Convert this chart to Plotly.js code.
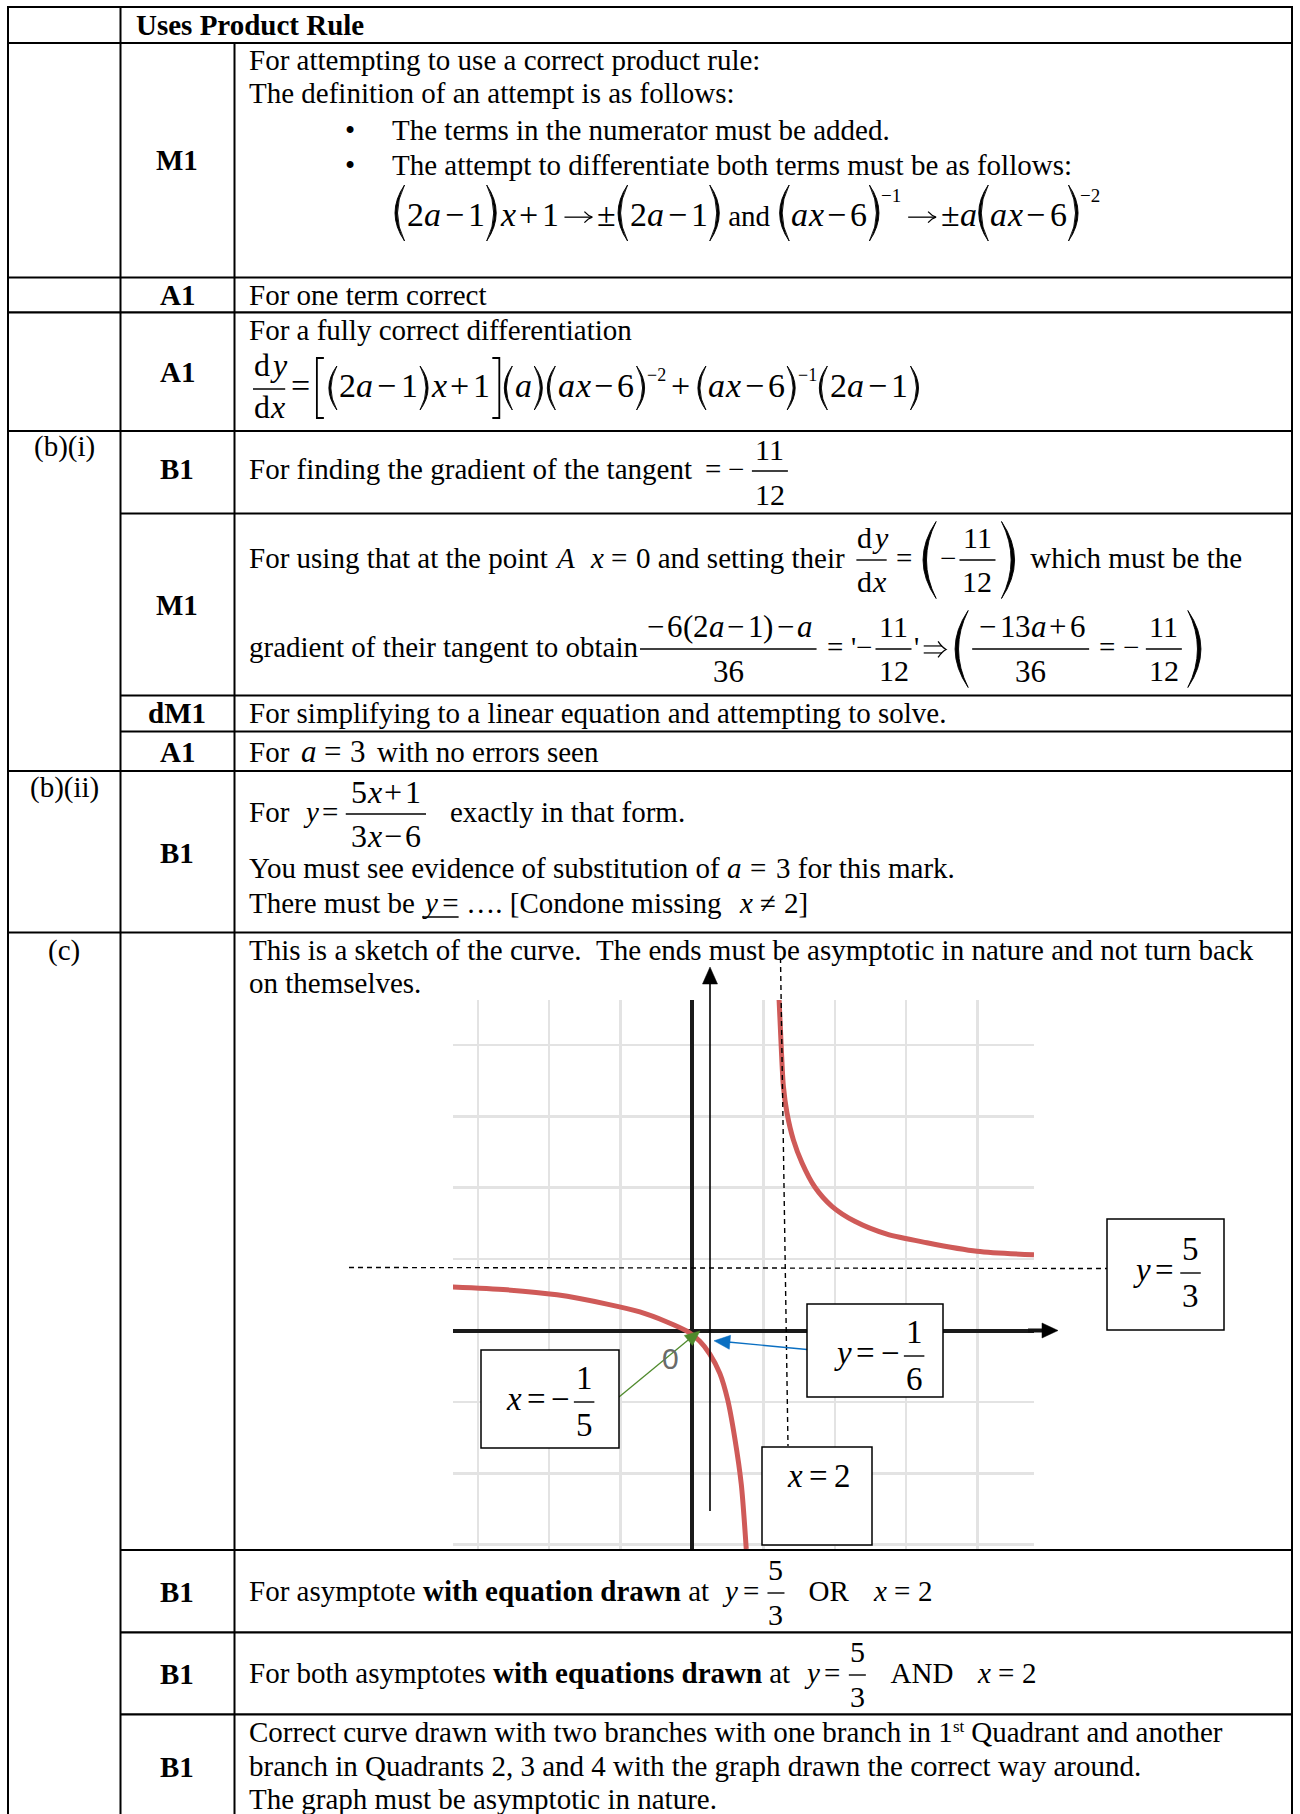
<!DOCTYPE html>
<html><head><meta charset="utf-8">
<script src="https://cdn.plot.ly/plotly-3.0.1.min.js"></script>
<style>html,body{margin:0;padding:0;background:#fff}</style>
</head><body>
<div id="chart" style="width:1300px;height:1814px"></div>
<script>
// ---------- data (grid units of the drawn grid) ----------
const upperX = [1.22, 1.25, 1.28, 1.33, 1.42, 1.54, 1.72, 1.96, 2.28, 2.73, 3.29, 3.99, 4.79];
const upperY = [4.63, 3.97, 3.42, 3.05, 2.67, 2.35, 2.01, 1.74, 1.53, 1.35, 1.23, 1.11, 1.06];
const lowerX = [-3.35, -2.59, -1.89, -1.19, -0.73, -0.35, -0.07, 0.11, 0.25, 0.39, 0.50, 0.60, 0.69, 0.76];
const lowerY = [0.61, 0.57, 0.50, 0.37, 0.26, 0.12, -0.01, -0.15, -0.33, -0.60, -0.97, -1.51, -2.15, -3.06];
const markLabels = ['M1', 'A1', 'A1', 'B1', 'M1', 'dM1', 'A1', 'B1', 'B1', 'B1', 'B1'];
const partLabels = ['(b)(i)', '(b)(ii)', '(c)'];

// ---------- layout helpers (page pixel coordinates) ----------
const F = 'Liberation Serif';
const TS = 29;
const A = [], S = [];
const cx = document.createElement('canvas').getContext('2d');
function fnt(s, st) { return (st.indexOf('i') >= 0 ? 'italic ' : '') + (st.indexOf('b') >= 0 ? 'bold ' : '') + s + 'px "' + F + '"'; }
function mw(t, s, st) { cx.font = fnt(s, st || ''); return cx.measureText(t.replace(/ /g, '\u00a0')).width; }
function put(x, base, t, s, st, o) {
  o = o || {}; st = st || '';
  let h = t.replace(/ /g, '\u00a0');
  if (st.indexOf('i') >= 0) h = '<i>' + h + '</i>';
  if (st.indexOf('b') >= 0) h = '<b>' + h + '</b>';
  A.push({xref: 'x', yref: 'y', x: x, y: base - 0.3375 * s, text: h, showarrow: false,
    xanchor: o.anchor || 'left', yanchor: 'middle', borderpad: 0, borderwidth: 0,
    font: {family: o.fam || F, size: s, color: o.color || '#000'}});
}
function ln(x0, y0, x1, y1, w, extra) {
  const l = {color: '#000', width: w};
  if (extra && extra.dash) l.dash = extra.dash;
  if (extra && extra.color) l.color = extra.color;
  return {type: 'line', xref: 'x', yref: 'y', x0: x0, y0: y0, x1: x1, y1: y1, layer: 'above', line: l};
}
function pth(p, w) { return {type: 'path', xref: 'x', yref: 'y', path: p, line: {color: '#000', width: w}, layer: 'above'}; }
function T(t, st, s, dy) { return {k: 't', t: t, st: st || '', s: s || 0, dy: dy || 0}; }
function SUP(t, s, rise) { return T(t, '', s, -rise); }
function SP(n) { return {k: 'sp', n: n}; }
function FR(num, den, o) { return {k: 'f', num: num, den: den, o: o || {}}; }
function P(c, h, o) { return {k: 'p', c: c, h: h, o: o || {}}; }
function U(items) { return {k: 'u', items: items}; }
function AR(w, dbl, s) { return {k: 'ar', w: w, dbl: !!dbl, s: s}; }
const ITAL = 'axyA';
function M(str, sz, rs, bs) {
  rs = (rs == null ? 5 : rs); bs = (bs == null ? 3 : bs);
  const out = [];
  for (const ch of str) {
    if (ITAL.indexOf(ch) >= 0) out.push(T(ch, 'i', sz));
    else if ('−+'.indexOf(ch) >= 0) out.push(SP(bs), T(ch, '', sz), SP(bs));
    else if (ch === '→') out.push(SP(rs), AR(0.88 * (sz || TS), false, sz), SP(rs));
    else if (ch === '⇒') out.push(SP(Math.max(1, rs - 3)), AR(0.84 * (sz || TS), true, sz), SP(Math.max(1, rs - 3)));
    else if ('=≠'.indexOf(ch) >= 0) out.push(SP(rs), T(ch, '', sz), SP(rs));
    else out.push(T(ch, '', sz));
  }
  return out;
}
function parenShape(c, x, yc, w, h) {
  const top = yc - h / 2, bot = yc + h / 2, t = Math.max(2, 0.045 * h);
  let p;
  if (c === '(' || c === ')') {
    let xe, x1, x2;
    if (c === '(') { xe = x + w; x1 = 2 * x - xe; x2 = 2 * (x + t) - xe; }
    else { xe = x; x1 = 2 * (x + w) - xe; x2 = 2 * (x + w - t) - xe; }
    p = 'M' + xe + ',' + top + ' Q' + x1 + ',' + yc + ' ' + xe + ',' + bot + ' Q' + x2 + ',' + yc + ' ' + xe + ',' + top + ' Z';
    return {type: 'path', xref: 'x', yref: 'y', path: p, fillcolor: '#000', line: {color: '#000', width: 0.9}, layer: 'above'};
  }
  if (c === '[') p = 'M' + (x + w) + ',' + top + ' L' + x + ',' + top + ' L' + x + ',' + bot + ' L' + (x + w) + ',' + bot;
  else p = 'M' + x + ',' + top + ' L' + (x + w) + ',' + top + ' L' + (x + w) + ',' + bot + ' L' + x + ',' + bot;
  return pth(p, 1.8);
}
function run(x, base, items, s, draw) {
  s = s || TS;
  if (draw === undefined) draw = true;
  if (!Array.isArray(items)) items = [items];
  for (const it of items) {
    if (typeof it === 'string') { const w = mw(it, s, ''); if (draw) put(x, base, it, s, ''); x += w; continue; }
    if (it.k === 't') { const sz = it.s || s; const w = mw(it.t, sz, it.st); if (draw) put(x, base + it.dy, it.t, sz, it.st); x += w; }
    else if (it.k === 'sp') x += it.n;
    else if (it.k === 'ar') {
      const sz = it.s || s, yc = base - 0.26 * sz, x1 = x + 1, x2 = x + it.w - 1;
      if (draw) {
        if (!it.dbl) {
          S.push(ln(x1, yc, x2 - 1, yc, 1.3));
          S.push(pth('M' + (x2 - 8) + ',' + (yc - 5.5) + ' Q' + (x2 - 4) + ',' + (yc - 1) + ' ' + x2 + ',' + yc + ' Q' + (x2 - 4) + ',' + (yc + 1) + ' ' + (x2 - 8) + ',' + (yc + 5.5), 1.3));
        } else {
          S.push(ln(x1, yc - 3.5, x2 - 4, yc - 3.5, 1.2));
          S.push(ln(x1, yc + 3.5, x2 - 4, yc + 3.5, 1.2));
          S.push(pth('M' + (x2 - 8) + ',' + (yc - 8) + ' Q' + (x2 - 4) + ',' + (yc - 2) + ' ' + x2 + ',' + yc + ' Q' + (x2 - 4) + ',' + (yc + 2) + ' ' + (x2 - 8) + ',' + (yc + 8), 1.3));
        }
      }
      x += it.w;
    }
    else if (it.k === 'f') {
      const o = it.o, sz = o.s || s, pad = (o.pad == null ? 2 : o.pad);
      const wn = run(0, 0, it.num, sz, false), wd = run(0, 0, it.den, sz, false);
      const W = Math.max(wn, wd) + 2 * pad;
      const bar = base - (o.ax == null ? 8 : o.ax);
      if (draw) {
        run(x + (W - wn) / 2, bar - (o.gn == null ? 12 : o.gn), it.num, sz, true);
        run(x + (W - wd) / 2, bar + (o.gd == null ? 32 : o.gd), it.den, sz, true);
        S.push(ln(x, bar, x + W, bar, o.lw || 1.4));
      }
      x += W + 2;
    }
    else if (it.k === 'p') {
      const o = it.o, isB = (it.c === '[' || it.c === ']');
      const w = o.w || (isB ? 7 : Math.max(8, 0.17 * it.h));
      const sb = (o.sb == null ? 2 : o.sb);
      const yc = base - (o.c == null ? 8 : o.c);
      if (draw) S.push(parenShape(it.c, x + sb, yc, w, it.h));
      x += w + 2 * sb;
    }
    else if (it.k === 'u') { const x0 = x; x = run(x, base, it.items, s, draw); if (draw) S.push(ln(x0, base + 4, x, base + 4, 1.4)); }
  }
  return x;
}

// ---------- table grid ----------
const L = 8, C1 = 120.5, C2 = 234.5, R = 1292;
[[7, L], [43, L], [277.5, L], [312.3, L], [431, L], [513.5, C1], [695.5, C1], [731.5, C1], [771, L], [932.5, L],
 [1550, C1], [1632.3, C1], [1714.3, C1]].forEach(function (r) { S.push(ln(r[1], r[0], R, r[0], 2.2)); });
S.push(ln(L, 6, L, 1814, 2));
S.push(ln(C1, 6, C1, 1814, 2));
S.push(ln(C2, 43, C2, 1814, 2));
S.push(ln(R, 6, R, 1814, 2));

// ---------- labels ----------
const markBase = [170, 305, 382, 479, 615, 723, 762, 863, 1602, 1684, 1777];
markLabels.forEach(function (t, i) { put(177, markBase[i], t, TS, 'b', {anchor: 'center'}); });
const partBase = [456, 797, 960];
partLabels.forEach(function (t, i) { put(64, partBase[i], t, TS, '', {anchor: 'center'}); });

// ---------- text rows ----------
const X0 = 249;
put(136, 35, 'Uses Product Rule', TS, 'b');
run(X0, 70, 'For attempting to use a correct product rule:');
run(X0, 103, 'The definition of an attempt is as follows:');
put(350, 140, '•', TS, '', {anchor: 'center'});
run(392, 140, 'The terms in the numerator must be added.');
put(350, 175, '•', TS, '', {anchor: 'center'});
run(392, 175, 'The attempt to differentiate both terms must be as follows:');
(function () {
  const s = 34, p = function (c) { return P(c, 56, {c: 13}); };
  run(393, 226, [].concat(p('('), M('2a−1', s, 4, 4), p(')'), SP(2), M('x+1→±', s, 4, 4), p('('), M('2a−1', s, 4, 4), p(')'),
    T(' and ', '', TS), p('('), M('ax−6', s, 4, 4), p(')'), SUP('−1', 19, 24), SP(2), M('→±a', s, 4, 4), p('('), M('ax−6', s, 4, 4), p(')'), SUP('−2', 19, 24)), s);
})();
run(X0, 305, 'For one term correct');
run(X0, 340, 'For a fully correct differentiation');
(function () {
  const s = 34, p = function (c) { return P(c, 44, {c: 9, sb: 2.5}); }, b = function (c) { return P(c, 60, {c: 9, sb: 2.5}); };
  run(253, 397, [].concat(FR([T('d'), T('y', 'i')], [T('d'), T('x', 'i')], {s: 32, pad: 1, gn: 13, gd: 29, ax: 8}), M('=', s, 4), b('['), p('('), M('2a−1', s, 5, 4), p(')'),
    M('x+1', s, 5, 4), b(']'), p('('), T('a', 'i'), p(')'), p('('), M('ax−6', s, 5, 4), p(')'), SUP('−2', 18, 16), M('+', s, 5, 5),
    p('('), M('ax−6', s, 5, 4), p(')'), SUP('−1', 18, 16), p('('), M('2a−1', s, 5, 4), p(')')), s);
})();
// (b)(i)
run(X0, 479, [].concat('For finding the gradient of the tangent ', M('=', TS, 6), T('−'), SP(8), FR(['11'], ['12'], {s: 30, gn: 11, gd: 34, pad: 3})));
(function () {
  const fo = {s: 30, gn: 12, gd: 32, pad: 1};
  const fo3 = {s: 30, gn: 12, gd: 32, pad: 3};
  const fb = {s: 31, gn: 12, gd: 33, pad: 4};
  const pb = function (c) { return P(c, 77, {c: 8, sb: 4}); };
  const dydx = FR([T('d'), T('y', 'i')], [T('d'), T('x', 'i')], fo);
  run(X0, 568, [].concat('For using that at the point ', T('A', 'i'), '  ', SP(3), T('x', 'i'), M('=', TS, 8), '0 and setting their ', SP(5), dydx, M('=', TS, 7),
    pb('('), T('−'), SP(3), FR(['11'], ['12'], fo3), pb(')'), SP(4), ' which must be the'));
  run(X0, 657, [].concat('gradient of their tangent to obtain', SP(2), FR(M('−6(2a−1)−a', 31), ['36'], fb), M('=', TS, 8), "'", T('−'), SP(3),
    FR(['11'], ['12'], fo3), "'", M('⇒', TS, 7), pb('('), FR(M('−13a+6', 31), ['36'], fb), M('=', TS, 8), T('−'), SP(6), FR(['11'], ['12'], fo3), pb(')')));
})();
run(X0, 723, 'For simplifying to a linear equation and attempting to solve.');
run(X0, 762, [].concat('For ', SP(4), T('a', 'i', 31), M('=', 31, 8), T('3', '', 31), SP(12), 'with no errors seen'));
// (b)(ii)
run(X0, 822, [].concat('For ', SP(6), T('y', 'i'), M('=', TS, 7), FR(M('5x+1', 32), M('3x−6', 32), {s: 32, gn: 11, gd: 33, pad: 5}), SP(22), 'exactly in that form.'));
run(X0, 878, [].concat('You must see evidence of substitution of ', T('a', 'i'), M('=', TS, 9), '3 for this mark.'));
run(X0, 913, [].concat('There must be ', U([T('y', 'i'), ' =']), ' …. [Condone missing  ', SP(3), T('x', 'i'), M('≠', TS, 8), '2]'));
// (c)
run(X0, 960, 'This is a sketch of the curve.  The ends must be asymptotic in nature and not turn back');
run(X0, 993, 'on themselves.');
const f53 = function () { return FR(['5'], ['3'], {s: 30, gn: 13, gd: 32, pad: 1}); };
run(X0, 1601, [].concat('For asymptote ', T('with equation drawn', 'b'), ' at ', SP(6), T('y', 'i'), M('=', TS, 8), f53(), SP(8), '  OR  ', SP(9), T('x', 'i'), M('=', TS, 8), '2'));
run(X0, 1683, [].concat('For both asymptotes ', T('with equations drawn', 'b'), ' at ', SP(6), T('y', 'i'), M('=', TS, 8), f53(), SP(8), '  AND  ', SP(9), T('x', 'i'), M('=', TS, 8), '2'));
run(X0, 1742, [].concat('Correct curve drawn with two branches with one branch in 1', SUP('st', 17, 10), ' Quadrant and another'));
run(X0, 1776, 'branch in Quadrants 2, 3 and 4 with the graph drawn the correct way around.');
run(X0, 1809, 'The graph must be asymptotic in nature.');

// ---------- sketch decorations ----------
function arrowHead(xt, yt, xf, yf, Lh, Wh, color) {
  const dx = xt - xf, dy = yt - yf, d = Math.sqrt(dx * dx + dy * dy), ux = dx / d, uy = dy / d;
  const bx = xt - ux * Lh, by = yt - uy * Lh;
  const p = 'M' + xt + ',' + yt + ' L' + (bx - uy * Wh) + ',' + (by + ux * Wh) + ' L' + (bx + uy * Wh) + ',' + (by - ux * Wh) + ' Z';
  return {type: 'path', xref: 'x', yref: 'y', path: p, fillcolor: color, line: {color: color, width: 0.5}, layer: 'above'};
}
S.push(ln(1028, 1330.5, 1045, 1330.5, 4, {color: '#111'}));
S.push(arrowHead(1058, 1330.5, 1030, 1330.5, 16, 7.5, '#000'));
S.push(ln(710, 1511, 710, 980, 1.6));
S.push(arrowHead(710, 967, 710, 1000, 17, 7.5, '#000'));
S.push(ln(349, 1267.5, 1107, 1268.5, 1.4, {dash: '5px,4px'}));
S.push(ln(780.5, 958, 788, 1446, 1.4, {dash: '5px,4px'}));
// connector arrows
S.push(ln(619, 1397, 693, 1336, 1.3, {color: '#4f8a2c'}));
S.push(arrowHead(700, 1331, 619, 1397, 15, 6.5, '#4f8a2c'));
S.push(ln(807, 1349.5, 728, 1342, 1.3, {color: '#0a6fc2'}));
S.push(arrowHead(714, 1340.8, 807, 1349.5, 16, 7, '#0a6fc2'));
// label boxes
[[1107, 1219, 1224, 1330], [807, 1304, 943, 1397], [481, 1350, 619, 1448], [762, 1447, 872, 1545]].forEach(function (b) {
  S.push({type: 'rect', xref: 'x', yref: 'y', x0: b[0], y0: b[1], x1: b[2], y1: b[3], fillcolor: '#fff', line: {color: '#000', width: 1.5}, layer: 'above'});
});
const bo = {s: 33, gn: 13, gd: 34, pad: 2};
run(1133, 1281, [].concat(T('y', 'i'), M('=', 33, 7), FR(['5'], ['3'], bo)), 33);
run(834, 1364, [].concat(T('y', 'i'), M('=', 33, 7), T('−'), SP(4), FR(['1'], ['6'], bo)), 33);
run(506, 1410, [].concat(T('x', 'i'), M('=', 33, 6), T('−'), SP(4), FR(['1'], ['5'], bo)), 33);
run(787, 1487, [].concat(T('x', 'i'), M('=', 33, 7), T('2')), 33);
put(670, 1369, '0', 30, '', {anchor: 'center', fam: 'Liberation Sans', color: '#6a6a6a'});

// ---------- traces ----------
const curveStyle = {color: '#cf5a58', width: 5, shape: 'spline', smoothing: 0.8};
const traces = [
  {x: [0], y: [0], xaxis: 'x', yaxis: 'y', mode: 'markers', marker: {opacity: 0}, hoverinfo: 'skip', showlegend: false},
  {x: lowerX, y: lowerY, xaxis: 'x2', yaxis: 'y2', mode: 'lines', line: curveStyle, hoverinfo: 'skip', showlegend: false},
  {x: upperX, y: upperY, xaxis: 'x2', yaxis: 'y2', mode: 'lines', line: curveStyle, hoverinfo: 'skip', showlegend: false}
];
const gridAxis = {showgrid: true, gridcolor: '#e3e3e3', gridwidth: 2.5, dtick: 1, tick0: 0, zeroline: true,
  zerolinecolor: '#1a1a1a', zerolinewidth: 4, showticklabels: false, ticks: '', showline: false, fixedrange: true};
const layout = {
  width: 1300, height: 1814, margin: {l: 0, r: 0, t: 0, b: 0, pad: 0},
  paper_bgcolor: '#fff', plot_bgcolor: 'rgba(0,0,0,0)', showlegend: false,
  xaxis: {domain: [0, 1], range: [0, 1300], visible: false, fixedrange: true},
  yaxis: {domain: [0, 1], range: [1814, 0], visible: false, fixedrange: true},
  xaxis2: Object.assign({domain: [453 / 1300, 1034 / 1300], range: [-3.347, 4.790], anchor: 'y2'}, gridAxis),
  yaxis2: Object.assign({domain: [1 - 1549 / 1814, 1 - 1000 / 1814], range: [-3.060, 4.629], anchor: 'x2'}, gridAxis),
  shapes: S, annotations: A
};
Plotly.newPlot('chart', traces, layout, {displayModeBar: false, staticPlot: true});
</script>
</body></html>
